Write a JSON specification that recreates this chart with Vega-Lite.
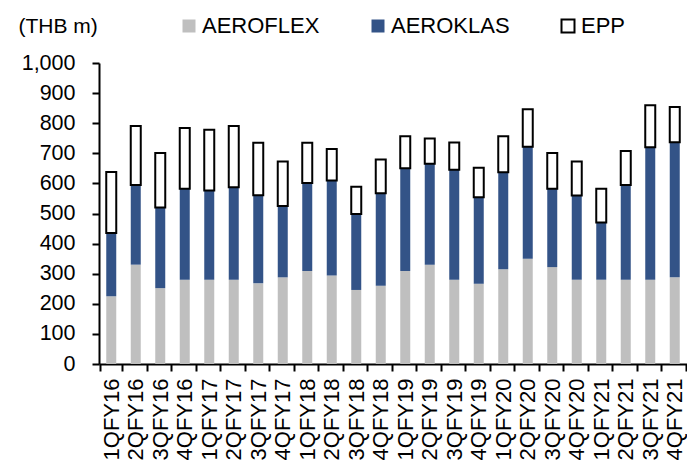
{
  "$schema": "https://vega.github.io/schema/vega-lite/v6.json",
  "width": 588,
  "height": 301,
  "autosize": "none",
  "padding": {"left": 99, "top": 63, "right": 0, "bottom": 99},
  "background": "white",
  "config": {
    "view": {"stroke": null},
    "font": "Liberation Sans",
    "axis": {"grid": false, "domainColor": "black", "domainWidth": 2, "tickColor": "black", "tickWidth": 2, "labelColor": "black", "labelFont": "Liberation Sans"}
  },
  "data": {
    "values": [
      {"q": "1QFY16", "seg": "AEROFLEX", "o": 1, "v": 225}, {"q": "1QFY16", "seg": "AEROKLAS", "o": 2, "v": 210}, {"q": "1QFY16", "seg": "EPP", "o": 3, "v": 203},
      {"q": "2QFY16", "seg": "AEROFLEX", "o": 1, "v": 330}, {"q": "2QFY16", "seg": "AEROKLAS", "o": 2, "v": 265}, {"q": "2QFY16", "seg": "EPP", "o": 3, "v": 196},
      {"q": "3QFY16", "seg": "AEROFLEX", "o": 1, "v": 252}, {"q": "3QFY16", "seg": "AEROKLAS", "o": 2, "v": 268}, {"q": "3QFY16", "seg": "EPP", "o": 3, "v": 181},
      {"q": "4QFY16", "seg": "AEROFLEX", "o": 1, "v": 280}, {"q": "4QFY16", "seg": "AEROKLAS", "o": 2, "v": 302}, {"q": "4QFY16", "seg": "EPP", "o": 3, "v": 202},
      {"q": "1QFY17", "seg": "AEROFLEX", "o": 1, "v": 280}, {"q": "1QFY17", "seg": "AEROKLAS", "o": 2, "v": 296}, {"q": "1QFY17", "seg": "EPP", "o": 3, "v": 202},
      {"q": "2QFY17", "seg": "AEROFLEX", "o": 1, "v": 280}, {"q": "2QFY17", "seg": "AEROKLAS", "o": 2, "v": 307}, {"q": "2QFY17", "seg": "EPP", "o": 3, "v": 204},
      {"q": "3QFY17", "seg": "AEROFLEX", "o": 1, "v": 268}, {"q": "3QFY17", "seg": "AEROKLAS", "o": 2, "v": 293}, {"q": "3QFY17", "seg": "EPP", "o": 3, "v": 174},
      {"q": "4QFY17", "seg": "AEROFLEX", "o": 1, "v": 288}, {"q": "4QFY17", "seg": "AEROKLAS", "o": 2, "v": 237}, {"q": "4QFY17", "seg": "EPP", "o": 3, "v": 148},
      {"q": "1QFY18", "seg": "AEROFLEX", "o": 1, "v": 309}, {"q": "1QFY18", "seg": "AEROKLAS", "o": 2, "v": 292}, {"q": "1QFY18", "seg": "EPP", "o": 3, "v": 134},
      {"q": "2QFY18", "seg": "AEROFLEX", "o": 1, "v": 294}, {"q": "2QFY18", "seg": "AEROKLAS", "o": 2, "v": 316}, {"q": "2QFY18", "seg": "EPP", "o": 3, "v": 104},
      {"q": "3QFY18", "seg": "AEROFLEX", "o": 1, "v": 246}, {"q": "3QFY18", "seg": "AEROKLAS", "o": 2, "v": 252}, {"q": "3QFY18", "seg": "EPP", "o": 3, "v": 91},
      {"q": "4QFY18", "seg": "AEROFLEX", "o": 1, "v": 260}, {"q": "4QFY18", "seg": "AEROKLAS", "o": 2, "v": 307}, {"q": "4QFY18", "seg": "EPP", "o": 3, "v": 112},
      {"q": "1QFY19", "seg": "AEROFLEX", "o": 1, "v": 309}, {"q": "1QFY19", "seg": "AEROKLAS", "o": 2, "v": 341}, {"q": "1QFY19", "seg": "EPP", "o": 3, "v": 107},
      {"q": "2QFY19", "seg": "AEROFLEX", "o": 1, "v": 330}, {"q": "2QFY19", "seg": "AEROKLAS", "o": 2, "v": 335}, {"q": "2QFY19", "seg": "EPP", "o": 3, "v": 84},
      {"q": "3QFY19", "seg": "AEROFLEX", "o": 1, "v": 280}, {"q": "3QFY19", "seg": "AEROKLAS", "o": 2, "v": 365}, {"q": "3QFY19", "seg": "EPP", "o": 3, "v": 91},
      {"q": "4QFY19", "seg": "AEROFLEX", "o": 1, "v": 267}, {"q": "4QFY19", "seg": "AEROKLAS", "o": 2, "v": 287}, {"q": "4QFY19", "seg": "EPP", "o": 3, "v": 98},
      {"q": "1QFY20", "seg": "AEROFLEX", "o": 1, "v": 315}, {"q": "1QFY20", "seg": "AEROKLAS", "o": 2, "v": 322}, {"q": "1QFY20", "seg": "EPP", "o": 3, "v": 120},
      {"q": "2QFY20", "seg": "AEROFLEX", "o": 1, "v": 350}, {"q": "2QFY20", "seg": "AEROKLAS", "o": 2, "v": 372}, {"q": "2QFY20", "seg": "EPP", "o": 3, "v": 124},
      {"q": "3QFY20", "seg": "AEROFLEX", "o": 1, "v": 322}, {"q": "3QFY20", "seg": "AEROKLAS", "o": 2, "v": 260}, {"q": "3QFY20", "seg": "EPP", "o": 3, "v": 119},
      {"q": "4QFY20", "seg": "AEROFLEX", "o": 1, "v": 280}, {"q": "4QFY20", "seg": "AEROKLAS", "o": 2, "v": 280}, {"q": "4QFY20", "seg": "EPP", "o": 3, "v": 113},
      {"q": "1QFY21", "seg": "AEROFLEX", "o": 1, "v": 280}, {"q": "1QFY21", "seg": "AEROKLAS", "o": 2, "v": 190}, {"q": "1QFY21", "seg": "EPP", "o": 3, "v": 112},
      {"q": "2QFY21", "seg": "AEROFLEX", "o": 1, "v": 280}, {"q": "2QFY21", "seg": "AEROKLAS", "o": 2, "v": 315}, {"q": "2QFY21", "seg": "EPP", "o": 3, "v": 113},
      {"q": "3QFY21", "seg": "AEROFLEX", "o": 1, "v": 280}, {"q": "3QFY21", "seg": "AEROKLAS", "o": 2, "v": 440}, {"q": "3QFY21", "seg": "EPP", "o": 3, "v": 140},
      {"q": "4QFY21", "seg": "AEROFLEX", "o": 1, "v": 288}, {"q": "4QFY21", "seg": "AEROKLAS", "o": 2, "v": 449}, {"q": "4QFY21", "seg": "EPP", "o": 3, "v": 117}
    ]
  },
  "mark": {"type": "bar", "size": 10, "strokeWidth": 2},
  "encoding": {
    "x": {
      "field": "q", "type": "nominal", "sort": null, "title": null,
      "axis": {"labelAngle": -90, "labelAlign": "right", "labelBaseline": "middle", "labelFontSize": 22, "labelPadding": 7, "tickSize": 7, "tickBand": "extent", "labelOverlap": false}
    },
    "y": {
      "field": "v", "type": "quantitative", "stack": "zero",
      "scale": {"domain": [0, 1000], "nice": false},
      "axis": {"values": [0, 100, 200, 300, 400, 500, 600, 700, 800, 900, 1000], "format": ",d", "labelFontSize": 21.5, "labelPadding": 17, "tickSize": 7,
        "title": "(THB m)", "titleAngle": 0, "titleAlign": "left", "titleBaseline": "middle", "titleX": -81, "titleY": -37, "titleFontSize": 21, "titleFontWeight": "normal", "titleColor": "black", "titleFont": "Liberation Sans"}
    },
    "order": {"field": "o", "type": "quantitative"},
    "fill": {
      "field": "seg", "type": "nominal",
      "scale": {"domain": ["AEROFLEX", "AEROKLAS", "EPP"], "range": ["#BFBFBF", "#335387", "#FFFFFF"]},
      "legend": {"title": null, "orient": "none", "direction": "horizontal", "legendX": 79, "legendY": -48, "symbolType": "square", "symbolSize": 169, "symbolStrokeWidth": 2, "labelFontSize": 22, "labelColor": "black", "labelFont": "Liberation Sans", "labelOffset": 2, "columnPadding": 47, "labelLimit": 300}
    },
    "stroke": {
      "field": "seg", "type": "nominal",
      "scale": {"domain": ["AEROFLEX", "AEROKLAS", "EPP"], "range": ["transparent", "transparent", "#000000"]},
      "legend": {"title": null, "orient": "none", "direction": "horizontal", "legendX": 79, "legendY": -48, "symbolType": "square", "symbolSize": 169, "symbolStrokeWidth": 2, "labelFontSize": 22, "labelColor": "black", "labelFont": "Liberation Sans", "labelOffset": 2, "columnPadding": 47, "labelLimit": 300}
    }
  }
}
